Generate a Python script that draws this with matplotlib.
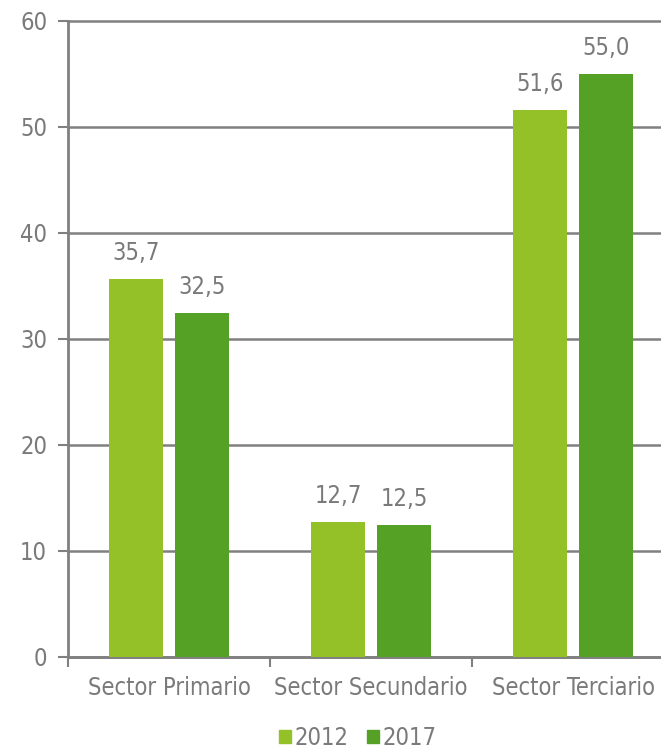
import numpy as np
import matplotlib.pyplot as plt
from matplotlib.patches import Patch

categories = ["Sector Primario", "Sector Secundario", "Sector Terciario"]
years = ["2012", "2017"]
values_2012 = [35.7, 12.7, 51.6]
values_2017 = [32.5, 12.5, 55.0]
yticks = [0, 10, 20, 30, 40, 50, 60]

c2012 = "#93c127"
c2017 = "#55a125"
grey = "#808080"
txt = "#7a7a7a"
fs = 17

plt.rcParams["font.family"] = ["DejaVu Sans"]
plt.rcParams["font.stretch"] = "condensed"

fig = plt.figure(figsize=(6.61, 7.49), dpi=100)
ax = fig.add_axes([68 / 661, 92 / 749, 606 / 661, 636 / 749])

x = np.arange(len(categories))
w = 0.267
off = 0.163
b1 = ax.bar(x - off, values_2012, w, color=c2012, zorder=3)
b2 = ax.bar(x + off, values_2017, w, color=c2017, zorder=3)

for bars, vals in ((b1, values_2012), (b2, values_2017)):
    for r, v in zip(bars, vals):
        ax.annotate(f"{v:.1f}".replace(".", ","), (r.get_x() + r.get_width() / 2, v),
                    textcoords="offset points", xytext=(0, 10), ha="center", va="bottom",
                    fontsize=fs, color=txt)

ax.set_xlim(-0.5, 2.5)
ax.set_ylim(0, 60)
ax.set_yticks(yticks)
ax.set_yticklabels([str(t) for t in yticks], fontsize=fs, color=txt)
ax.set_xticks(x)
ax.set_xticklabels(categories, fontsize=fs, color=txt)
ax.tick_params(axis="x", which="major", length=0, pad=14)
ax.set_xticks([-0.5, 0.5, 1.5, 2.5], minor=True)
ax.tick_params(axis="x", which="minor", length=7, width=1.5, color=grey)
ax.tick_params(axis="y", length=7, width=1.5, color=grey, pad=8)

ax.grid(axis="y", color=grey, linewidth=1.8, zorder=0)
for gl in ax.get_ygridlines():
    gl.set_clip_on(False)
ax.set_axisbelow(True)
for s in ("top", "right"):
    ax.spines[s].set_visible(False)
for s in ("left", "bottom"):
    ax.spines[s].set_color(grey)
    ax.spines[s].set_linewidth(2)

handles = [Patch(color=c2012, label=years[0]), Patch(color=c2017, label=years[1])]
fig.legend(handles=handles, loc="center", bbox_to_anchor=(358 / 661, 11 / 749), ncol=2,
           frameon=False, fontsize=fs, handlelength=0.5, handleheight=0.5,
           handletextpad=0.15, columnspacing=0.8, labelcolor=txt)

fig.savefig("out.png", dpi=100)
